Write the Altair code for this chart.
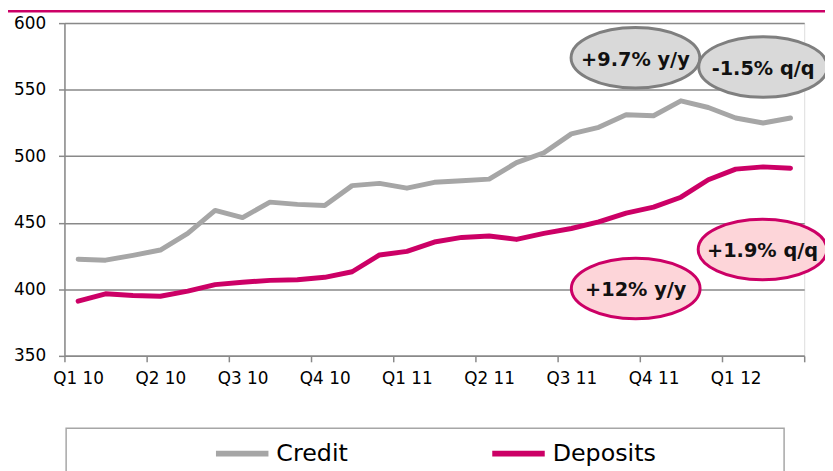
import altair as alt
import pandas as pd

# ---- data ----
quarters = ["Q1 10", "Q2 10", "Q3 10", "Q4 10", "Q1 11", "Q2 11", "Q3 11", "Q4 11", "Q1 12"]
credit = [422.6, 421.9, 425.5, 429.5, 442.0, 459.3, 453.9, 465.5, 463.8, 463.0,
          477.9, 479.6, 476.0, 480.4, 481.6, 482.8, 495.2, 502.6, 516.8, 521.7,
          531.2, 530.4, 541.6, 536.6, 528.7, 525.0, 528.7]
deposits = [391.1, 396.6, 395.4, 394.8, 398.6, 403.5, 405.3, 406.7, 407.2, 409.0,
            413.2, 425.8, 428.5, 435.5, 439.0, 440.0, 437.5, 442.0, 445.7, 450.6,
            457.3, 461.8, 469.2, 482.3, 490.3, 492.0, 491.0]
series_names = ["Credit", "Deposits"]
series_colors = ["#a6a6a6", "#cc0066"]
ann_text = ["+9.7% y/y", "-1.5% q/q", "+12% y/y", "+1.9% q/q"]
ann_x = [20.34, 25.0, 20.35, 24.98]
ann_y = [574.0, 567.1, 400.6, 429.9]
ann_group = ["Credit", "Credit", "Deposits", "Deposits"]
ann_fill = ["#d9d9d9", "#fdd5d9"]
ann_stroke = ["#7f7f7f", "#cc0066"]
y_ticks = [350, 400, 450, 500, 550, 600]

n = len(credit)
df = pd.DataFrame({
    "idx": list(range(n)) * 2,
    "value": credit + deposits,
    "series": [series_names[0]] * n + [series_names[1]] * n,
})
ann = pd.DataFrame({"idx": ann_x, "value": ann_y, "text": ann_text, "group": ann_group})

W, H = 747, 336
FONT = "DejaVu Sans"
AXC = "#898989"

xscale = alt.Scale(domain=[-0.5, n - 0.5], nice=False, zero=False)
yscale = alt.Scale(domain=[y_ticks[0], y_ticks[-1]], nice=False, zero=False)

tick_vals = [-0.5 + 3 * k for k in range(len(quarters) + 1)]
label_arr = "[" + ",".join("'" + q + "'" for q in quarters + [""]) + "]"

xaxis = alt.Axis(values=tick_vals, labelExpr=label_arr + "[round((datum.value + 0.5) / 3)]",
                 labelOffset=W / n / 2, labelFlush=False, grid=False, tickSize=6,
                 tickColor=AXC, tickWidth=1.5, domainColor=AXC, domainWidth=1.5,
                 labelFontSize=17, labelFont=FONT, labelColor="#000000",
                 labelPadding=9, title=None)
yaxis = alt.Axis(values=y_ticks, grid=True, gridColor=AXC, gridWidth=1.5, tickSize=6,
                 tickColor=AXC, tickWidth=1.5, domainColor=AXC, domainWidth=1.5,
                 labelFontSize=17, labelFont=FONT, labelColor="#000000",
                 labelPadding=13, title=None)

legend = alt.Legend(orient="none", legendX=150, legendY=405, direction="horizontal",
                    title=None, symbolType="stroke", symbolSize=2809, symbolStrokeWidth=6,
                    labelFontSize=24, labelFont=FONT, labelColor="#000000", labelOffset=5,
                    columnPadding=133, padding=0)

lines = alt.Chart(df).mark_line(strokeWidth=5, strokeJoin="round", strokeCap="round").encode(
    x=alt.X("idx:Q", scale=xscale, axis=xaxis, title=None),
    y=alt.Y("value:Q", scale=yscale, axis=yaxis, title=None),
    color=alt.Color("series:N", scale=alt.Scale(domain=series_names, range=series_colors), legend=legend),
)

ELLIPSE = "M -1 0 A 1 0.47 0 1 1 1 0 A 1 0.47 0 1 1 -1 0 Z"
ellipses = alt.Chart(ann).mark_point(shape=ELLIPSE, size=16900, filled=True, strokeWidth=3,
                                     opacity=1, fillOpacity=1, strokeOpacity=1).encode(
    x=alt.X("idx:Q", title=None),
    y=alt.Y("value:Q", title=None),
    fill=alt.Fill("group:N", scale=alt.Scale(domain=series_names, range=ann_fill), legend=None),
    stroke=alt.Stroke("group:N", scale=alt.Scale(domain=series_names, range=ann_stroke), legend=None),
)
texts = alt.Chart(ann).mark_text(font=FONT, fontSize=19.5, fontWeight="bold", color="#111111",
                                 baseline="middle", dy=2).encode(
    x=alt.X("idx:Q", title=None),
    y=alt.Y("value:Q", title=None),
    text="text:N",
)

frame = alt.Chart(alt.Data(values=[{}])).mark_rect(fillOpacity=0, stroke="#a6a6a6", strokeWidth=1.5).encode(
    x=alt.value(1.7), x2=alt.value(726.7), y=alt.value(409), y2=alt.value(500)
)
topline = alt.Chart(alt.Data(values=[{}])).mark_rule(color="#cc0066", strokeWidth=2.5).encode(
    x=alt.value(-60), x2=alt.value(W + 30), y=alt.value(-12)
)

chart = alt.layer(frame, lines, ellipses, texts, topline).resolve_scale(
    fill="independent", stroke="independent"
).properties(
    width=W, height=H, autosize="none",
    padding={"left": 57, "top": 13, "right": 21, "bottom": 114},
).configure_view(stroke=None).configure(font=FONT)

chart.save("out.html", embed_options={"renderer": "svg", "actions": False})
